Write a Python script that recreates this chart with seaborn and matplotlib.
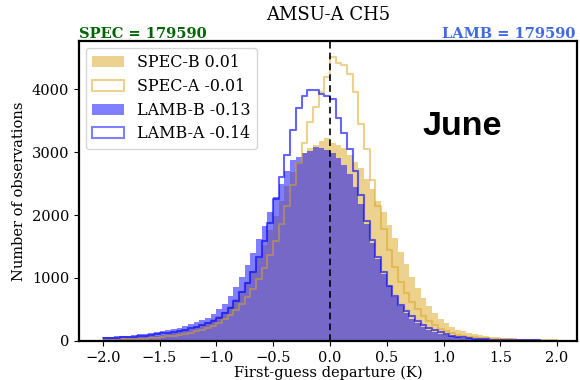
import numpy as np
import pandas as pd
import matplotlib
matplotlib.use("Agg")
import matplotlib.pyplot as plt
import seaborn as sns
from matplotlib.patches import Patch

sns.set_style("ticks")
plt.rcParams["font.family"] = ["DejaVu Serif"]
for key in ["text.color", "axes.labelcolor", "xtick.color", "ytick.color"]:
    plt.rcParams[key] = "black"

# histogram bins (K), 0.05 K wide from -2 to 2
bin_width = 0.05
bin_range = (-2.0, 2.0)
bin_centers = np.round(np.arange(-1.975, 2.0, bin_width), 3)

spec_b = [
    25, 30, 33, 37, 42, 48, 55, 62, 72, 85,
    100, 115, 130, 150, 170, 195, 220, 255, 295, 340,
    390, 460, 550, 660, 790, 940, 1110, 1310, 1530, 1760,
    1990, 2230, 2460, 2680, 2850, 2980, 3060, 3120, 3170, 3220,
    3150, 3120, 3060, 2960, 2850, 2740, 2580, 2420, 2230, 2050,
    1840, 1630, 1420, 1220, 1020, 840, 680, 550, 440, 350,
    280, 220, 180, 150, 125, 105, 90, 78, 68, 60,
    52, 46, 40, 35, 31, 27, 24, 21, 18, 15,
]
spec_a = [
    15, 17, 20, 22, 25, 28, 32, 37, 43, 50,
    60, 70, 82, 95, 110, 128, 150, 175, 205, 240,
    285, 340, 410, 490, 590, 700, 830, 980, 1160, 1360,
    1590, 1850, 2150, 2480, 2820, 3150, 3480, 3720, 3950, 4200,
    4520, 4420, 4380, 4250, 3950, 3450, 3050, 2550, 2150, 1780,
    1450, 1170, 940, 760, 620, 500, 400, 320, 250, 195,
    155, 125, 100, 82, 68, 57, 48, 41, 35, 30,
    26, 22, 19, 16, 14, 12, 10, 9, 8, 7,
]
lamb_b = [
    55, 65, 70, 80, 85, 95, 105, 115, 130, 145,
    155, 170, 190, 210, 235, 265, 295, 330, 370, 430,
    500, 590, 720, 860, 1010, 1200, 1400, 1620, 1820, 2050,
    2280, 2500, 2700, 2880, 2920, 2980, 3020, 3080, 3060, 3030,
    2980, 2900, 2800, 2660, 2450, 2180, 1860, 1560, 1300, 1070,
    870, 690, 550, 440, 350, 280, 225, 180, 145, 115,
    90, 72, 58, 46, 38, 31, 26, 22, 18, 15,
    13, 11, 9, 8, 7, 6, 5, 4, 4, 3,
]
lamb_a = [
    40, 45, 50, 55, 60, 68, 75, 85, 95, 110,
    120, 130, 145, 160, 180, 200, 225, 250, 280, 320,
    370, 440, 530, 640, 770, 920, 1100, 1330, 1580, 1880,
    2250, 2600, 2950, 3350, 3700, 3900, 3980, 3990, 3930, 3900,
    3850, 3550, 3300, 3050, 2700, 2320, 1900, 1600, 1340, 1100,
    880, 710, 570, 470, 390, 320, 260, 210, 170, 135,
    105, 85, 68, 55, 45, 37, 30, 25, 21, 18,
    15, 12, 10, 9, 8, 7, 6, 5, 4, 3,
]

series_names = ["SPEC-B 0.01", "SPEC-A -0.01", "LAMB-B -0.13", "LAMB-A -0.14"]
series_counts = [spec_b, spec_a, lamb_b, lamb_a]
spec_total = 179590
lamb_total = 179590

gold = "goldenrod"
blue = "blue"

df = pd.DataFrame({
    "dep": np.tile(bin_centers, 4),
    "count": np.concatenate(series_counts),
    "series": np.repeat(series_names, len(bin_centers)),
})

fig = plt.figure(figsize=(5.8, 3.8), dpi=100)
ax = fig.add_axes([0.136, 0.103, 0.859, 0.789])

styles = [
    dict(color=gold, fill=True, alpha=0.5, linewidth=0),
    dict(color=gold, fill=False, alpha=0.5, linewidth=1.5),
    dict(color=blue, fill=True, alpha=0.5, linewidth=0),
    dict(color=blue, fill=False, alpha=0.6, linewidth=1.5),
]
for name, st in zip(series_names, styles):
    sub = df[df["series"] == name]
    sns.histplot(data=sub, x="dep", weights="count", binwidth=bin_width,
                 binrange=bin_range, element="step", ax=ax, **st)

ax.axvline(0, color="black", linestyle=(0, (4, 2.5)), linewidth=1.2)

ax.set_xlim(-2.21, 2.176)
ax.set_ylim(0, 4766)
xt = np.arange(-2.0, 2.01, 0.5)
ax.set_xticks(xt)
ax.set_xticklabels([f"{t:.1f}".replace("-", "\u2212") for t in xt])
ax.set_yticks([0, 1000, 2000, 3000, 4000])
ax.tick_params(labelsize=10.5, length=3.5)
for s in ax.spines.values():
    s.set_visible(True)
    s.set_linewidth(1.6)
    s.set_color("black")

ax.set_xlabel("First-guess departure (K)", fontsize=10.5, labelpad=0.5)
ax.set_ylabel("Number of observations", fontsize=10.5)

ax.text(0.5, 1.058, "AMSU-A CH5", transform=ax.transAxes, ha="center",
        va="bottom", fontsize=13)
ax.text(0.0, 1.0, f"SPEC = {spec_total}", transform=ax.transAxes, ha="left",
        va="bottom", fontsize=10.5, fontweight="bold", color="darkgreen")
ax.text(0.997, 1.0, f"LAMB = {lamb_total}", transform=ax.transAxes, ha="right",
        va="bottom", fontsize=10.5, fontweight="bold", color="royalblue")
ax.text(0.69, 0.687, "June", transform=ax.transAxes, ha="left", va="baseline",
        fontsize=24.5, fontweight="bold", color="black",
        family=["Liberation Sans", "DejaVu Sans"])

handles = [
    Patch(facecolor=gold, alpha=0.5, edgecolor="none", label=series_names[0]),
    Patch(facecolor="white", edgecolor=(0.855, 0.647, 0.125, 0.5), linewidth=1.5,
          label=series_names[1]),
    Patch(facecolor=blue, alpha=0.5, edgecolor="none", label=series_names[2]),
    Patch(facecolor="white", edgecolor=(0, 0, 1, 0.5), linewidth=1.5,
          label=series_names[3]),
]
ax.legend(handles=handles, loc="upper left", fontsize=11.4, frameon=True,
          borderaxespad=0.45, handlelength=2.0, labelspacing=0.42)

fig.savefig("out.png", dpi=100)
